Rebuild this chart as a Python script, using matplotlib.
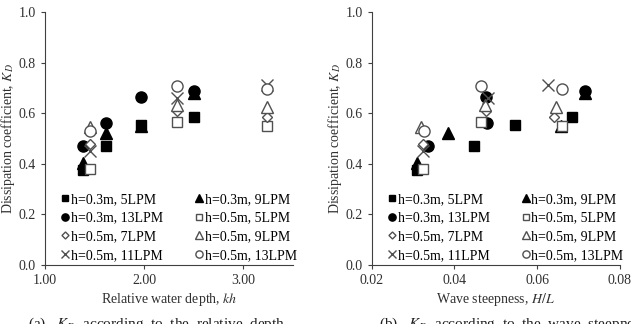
import matplotlib.pyplot as plt

plt.rcParams['font.family'] = ['Liberation Serif', 'DejaVu Serif']
plt.rcParams['mathtext.fontset'] = 'stix'

# h=0.3m runs (4 wave conditions)
kh_03 = [1.38, 1.62, 1.97, 2.50]
hl_03_5 = [0.0309, 0.0448, 0.0547, 0.0684]
hl_03_9 = [0.0310, 0.0384, 0.0658, 0.0716]
hl_03_13 = [0.0337, 0.0478, 0.0477, 0.0716]
kd_03_5 = [0.376, 0.472, 0.555, 0.584]
kd_03_9 = [0.405, 0.521, 0.550, 0.680]
kd_03_13 = [0.470, 0.563, 0.666, 0.686]

# h=0.5m runs (3 wave conditions)
kh_05 = [1.45, 2.33, 3.24]
hl_05_5 = [0.0323, 0.0464, 0.0661]
hl_05_7 = [0.0323, 0.0477, 0.0640]
hl_05_9 = [0.0320, 0.0474, 0.0645]
hl_05_11 = [0.0325, 0.0480, 0.0627]
hl_05_13 = [0.0327, 0.0465, 0.0660]
kd_05_5 = [0.378, 0.567, 0.551]
kd_05_7 = [0.478, 0.607, 0.585]
kd_05_9 = [0.545, 0.632, 0.625]
kd_05_11 = [0.450, 0.662, 0.712]
kd_05_13 = [0.528, 0.706, 0.694]

labels = ['h=0.3m, 5LPM', 'h=0.3m, 9LPM', 'h=0.3m, 13LPM', 'h=0.5m, 5LPM',
          'h=0.5m, 7LPM', 'h=0.5m, 9LPM', 'h=0.5m, 11LPM', 'h=0.5m, 13LPM']

gray = '#505050'
styles = [
    dict(marker='s', color='black', mfc='black', ms=7.5),
    dict(marker='^', color='black', mfc='black', ms=8),
    dict(marker='o', color='black', mfc='black', ms=8),
    dict(marker='s', color=gray, mfc='white', ms=7.5, mew=1.0),
    dict(marker='D', color=gray, mfc='white', ms=5.5, mew=1.0),
    dict(marker='^', color=gray, mfc='white', ms=8, mew=1.0),
    dict(marker='x', color=gray, ms=8, mew=1.0),
    dict(marker='o', color=gray, mfc='white', ms=8, mew=1.0),
]

kd_all = [kd_03_5, kd_03_9, kd_03_13, kd_05_5, kd_05_7, kd_05_9, kd_05_11, kd_05_13]
kh_all = [kh_03, kh_03, kh_03, kh_05, kh_05, kh_05, kh_05, kh_05]
hl_all = [hl_03_5, hl_03_9, hl_03_13, hl_05_5, hl_05_7, hl_05_9, hl_05_11, hl_05_13]

# legend is filled row by row in the original, matplotlib fills columns
leg_order = [0, 2, 4, 6, 1, 3, 5, 7]

fig = plt.figure(figsize=(6.31, 3.24), dpi=100)
ax1 = fig.add_axes([0.0713, 0.182, 0.393, 0.781])
ax2 = fig.add_axes([0.589, 0.182, 0.3935, 0.781])

for ax, xs_all in [(ax1, kh_all), (ax2, hl_all)]:
    handles = []
    for xs, ys, st, lab in zip(xs_all, kd_all, styles, labels):
        h, = ax.plot(xs, ys, linestyle='none', label=lab, **st)
        handles.append(h)
    ax.set_ylim(0, 1.0)
    ax.set_yticks([0, 0.2, 0.4, 0.6, 0.8, 1.0])
    ax.set_yticklabels(['0.0', '0.2', '0.4', '0.6', '0.8', '1.0'])
    for s in ['top', 'right']:
        ax.spines[s].set_visible(False)
    for s in ['left', 'bottom']:
        ax.spines[s].set_color('#404040')
    ax.tick_params(labelsize=10, length=3, color='#404040', labelcolor='#303030')
    ax.set_ylabel('Dissipation coefficient, $K_D$', fontsize=10, color='#303030', labelpad=1)
    ax.legend([handles[i] for i in leg_order], [labels[i] for i in leg_order],
              ncol=2, loc='lower center', bbox_to_anchor=(0.54, -0.02), frameon=False,
              fontsize=10, markerscale=0.65, handlelength=0.6, handletextpad=0.1,
              columnspacing=2.3, labelspacing=0.4, borderaxespad=0.2)

ax1.set_xlim(1.0, 3.5)
ax1.set_xticks([1, 2, 3])
ax1.set_xticklabels(['1.00', '2.00', '3.00'])
ax1.set_xlabel('Relative water depth, $kh$', fontsize=10, color='#303030', labelpad=3)

ax2.set_xlim(0.02, 0.08)
ax2.set_xticks([0.02, 0.04, 0.06, 0.08])
ax2.set_xticklabels(['0.02', '0.04', '0.06', '0.08'])
ax2.set_xlabel('Wave steepness, $H/L$', fontsize=10, color='#303030', labelpad=3)

fig.text(0.045, 0.0, '(a)   $K_D$  according  to  the  relative  depth', fontsize=11,
         va='center', color='#202020')
fig.text(0.60, 0.0, '(b)   $K_D$  according  to  the  wave  steepness', fontsize=11,
         va='center', color='#202020')

fig.savefig('out.png', dpi=100)
